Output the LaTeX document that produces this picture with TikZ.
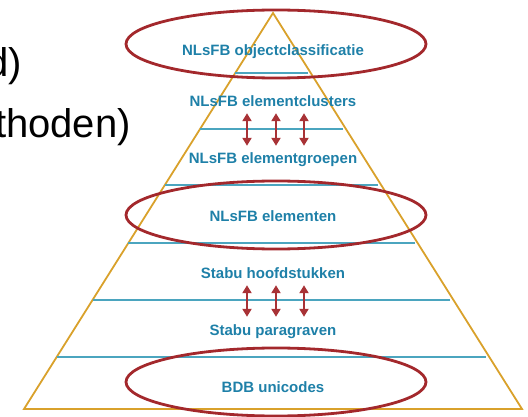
\documentclass[tikz,border=0pt]{standalone}
\usepackage{fontspec}
\setmainfont{Liberation Sans}
\usetikzlibrary{positioning, arrows.meta, shapes.geometric, calc}

\definecolor{levelteal}{HTML}{1E80A8}
\definecolor{tierline}{HTML}{4BA5BF}
\definecolor{pyrgold}{HTML}{D9A12B}
\definecolor{ringred}{HTML}{A3282C}
\definecolor{linkred}{HTML}{A83236}

\begin{document}
\begin{tikzpicture}[
    x=1pt, y=-1pt,
    level/.style={
        text=levelteal,
        inner sep=2pt,
        text height=11pt,
        text depth=3pt,
        font=\fontsize{15}{18}\selectfont\bfseries
    },
    ring/.style={
        ellipse,
        draw=ringred,
        line width=2.8pt,
        minimum width=300pt,
        minimum height=68pt,
        inner sep=0pt
    },
    pyramid/.style={draw=pyrgold, line width=1.8pt},
    tier/.style={draw=tierline, line width=1.6pt},
    link/.style={{Triangle[length=8pt, width=9pt]}-{Triangle[length=8pt, width=9pt]},
        draw=linkred, line width=2.6pt, shorten <=1pt, shorten >=5pt},
    slide/.style={inner sep=0pt, anchor=base east, font=\fontsize{40}{48}\selectfont}
]
\useasboundingbox (0,0) rectangle (528,417);

% Slide text behind the picture
\node[slide] (slideA) at (22,77) {d)};
\node[slide] (slideB) at (131,138) {thoden)};

% === Pyramid ===
\coordinate (apex) at (273,13);
\coordinate (bl) at (24,409);
\coordinate (br) at (522,409);
\draw[pyramid] (apex) -- (bl) -- (br) -- cycle;

% Tier lines
\draw[tier] ($(apex)!0.1515!(bl)$) -- ($(apex)!0.1515!(br) + (-3,0)$);
\draw[tier] ($(apex)!0.2929!(bl)$) -- ($(apex)!0.2929!(br) + (-3,0)$);
\draw[tier] ($(apex)!0.4343!(bl)$) -- ($(apex)!0.4343!(br) + (-3,0)$);
\draw[tier] ($(apex)!0.5808!(bl)$) -- ($(apex)!0.5808!(br) + (-3,0)$);
\draw[tier] ($(apex)!0.7247!(bl)$) -- ($(apex)!0.7247!(br) + (-3,0)$);
\draw[tier] ($(apex)!0.8687!(bl)$) -- ($(apex)!0.8687!(br) + (-3,0)$);

% === Levels ===
\node[level] (objcls) at (273,52) {NLsFB objectclassificatie};
\node[level] (clusters) at (273,103) {NLsFB elementclusters};
\node[level] (groepen) at (273,160) {NLsFB elementgroepen};
\node[level] (elementen) at (273,218) {NLsFB elementen};
\node[level] (hoofdst) at (273,275) {Stabu hoofdstukken};
\node[level] (paragr) at (273,331) {Stabu paragraven};
\node[level] (unicodes) at (273,388) {BDB unicodes};

% Highlight rings
\node[ring] (ringTop) at (276,44) {};
\node[ring] (ringMid) at (276,215) {};
\node[ring] (ringLow) at (276,382) {};

% Links between levels
\draw[link] ([xshift=-26pt]clusters.south) -- ([xshift=-26pt]groepen.north);
\draw[link] ([xshift=3pt]clusters.south) -- ([xshift=3pt]groepen.north);
\draw[link] ([xshift=31pt]clusters.south) -- ([xshift=31pt]groepen.north);
\draw[link] ([xshift=-26pt]hoofdst.south) -- ([xshift=-26pt]paragr.north);
\draw[link] ([xshift=3pt]hoofdst.south) -- ([xshift=3pt]paragr.north);
\draw[link] ([xshift=31pt]hoofdst.south) -- ([xshift=31pt]paragr.north);

\end{tikzpicture}
\end{document}
